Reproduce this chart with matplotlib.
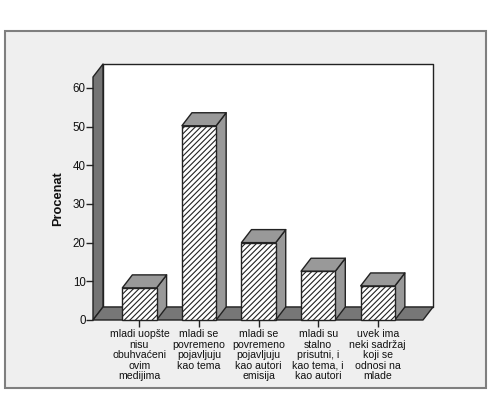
import matplotlib
matplotlib.use('Agg')
import matplotlib.pyplot as plt
from matplotlib.patches import Polygon, Rectangle

plt.rcParams['font.family'] = ['Liberation Sans', 'DejaVu Sans']
plt.rcParams['hatch.linewidth'] = 0.8

categories = ['mladi uopšte\nnisu\nobuhvaćeni\novim\nmedijima',
              'mladi se\npovremeno\npojavljuju\nkao tema',
              'mladi se\npovremeno\npojavljuju\nkao autori\nemisija',
              'mladi su\nstalno\nprisutni, i\nkao tema, i\nkao autori',
              'uvek ima\nneki sadržaj\nkoji se\nodnosi na\nmlade']
values = [8.3, 50.2, 20.0, 12.6, 8.8]
y_ticks = [0, 10, 20, 30, 40, 50, 60]

W, H = 492, 394
# 3d depth of the box, in data units
DX = 0.168
DY = 3.36
BAR_W = 0.575
XMIN, XMAX = -0.78, 4.76
YMAX = 62.8
EDGE = '#222222'
LW = 1.0

fig = plt.figure(figsize=(W / 100, H / 100), dpi=100, facecolor='white')

# grey panel behind the chart
fig.add_artist(Rectangle((5 / W, 1 - 388 / H), 481 / W, 357 / H, transform=fig.transFigure,
                         facecolor='#EFEFEF', edgecolor='#7F7F7F', linewidth=1.5, zorder=-1))

ax = fig.add_axes([93 / W, 1 - 320 / H, 330 / W, 243 / H])
ax.set_xlim(XMIN, XMAX)
ax.set_ylim(0, YMAX)
ax.patch.set_visible(False)
for s in ax.spines.values():
    s.set_visible(False)


def poly(pts, fc, z=2, **kw):
    p = Polygon(pts, closed=True, facecolor=fc, edgecolor=EDGE, linewidth=LW,
                zorder=z, clip_on=False, joinstyle='round', **kw)
    ax.add_patch(p)


# back wall, left wall, floor
poly([(XMIN + DX, DY), (XMAX + DX, DY), (XMAX + DX, YMAX + DY), (XMIN + DX, YMAX + DY)], 'white', 1)
poly([(XMIN, 0), (XMIN + DX, DY), (XMIN + DX, YMAX + DY), (XMIN, YMAX)], '#747474', 1)
poly([(XMIN, 0), (XMAX, 0), (XMAX + DX, DY), (XMIN + DX, DY)], '#777777', 1)

# bars, left to right
for i, v in enumerate(values):
    l, r = i - BAR_W / 2, i + BAR_W / 2
    poly([(r, 0), (r + DX, DY), (r + DX, v + DY), (r, v)], '#999999', 3)
    poly([(l, v), (r, v), (r + DX, v + DY), (l + DX, v + DY)], '#999999', 3)
    ax.bar(i, v, BAR_W, color='white', edgecolor=EDGE, linewidth=LW, hatch='//////', zorder=4,
           clip_on=False)

ax.set_yticks(y_ticks)
ax.set_xticks(range(len(categories)))
ax.set_xticklabels(categories, fontsize=7.6, linespacing=1.07, color='#111111')
ax.tick_params(axis='y', length=5, width=LW, color=EDGE, labelsize=8.3, pad=0.2, labelcolor='#111111')
ax.tick_params(axis='x', length=5, width=LW, color=EDGE, pad=1.6)
ax.text(-0.106, 0.50, 'Procenat', transform=ax.transAxes, rotation=90, ha='center', va='center',
        fontsize=9.2, fontweight='bold', color='#111111')

fig.savefig('out.png', dpi=100)
